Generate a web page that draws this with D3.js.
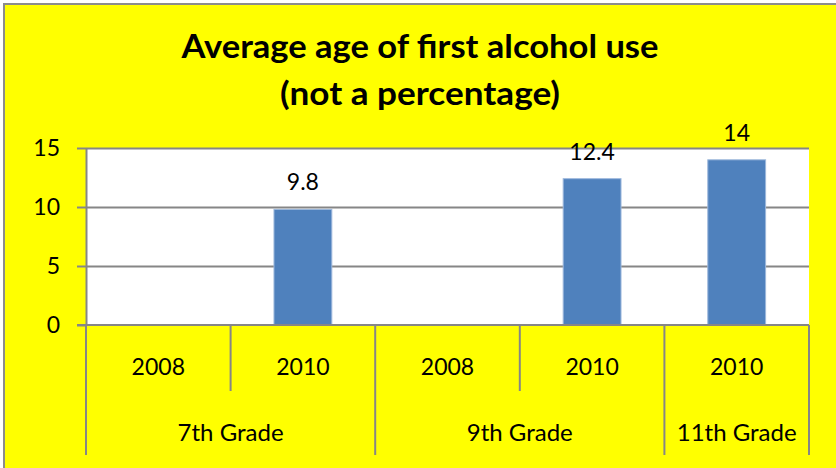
<!DOCTYPE html>
<html>
<head>
<meta charset="utf-8">
<script src="https://cdn.jsdelivr.net/npm/d3@7"></script>
<style>
  html, body { margin: 0; padding: 0; background: #ffffff; }
  svg { display: block; }
  text { font-family: Lato, "Open Sans", sans-serif; fill: #000; }
</style>
</head>
<body>
<div id="chart"></div>
<script>
// ---- data ----
const title = ["Average age of first alcohol use", "(not a percentage)"];
const slotKeys = ["7-2008", "7-2010", "9-2008", "9-2010", "11-2010"];
const years = ["2008", "2010", "2008", "2010", "2010"];
const grades = ["7th Grade", "9th Grade", "11th Grade"];
const gradeSpans = [2, 2, 1];
const values = [null, 9.8, null, 12.4, 14];
const yTicks = [0, 5, 10, 15];

// ---- layout ----
const W = 836, H = 468;
const plot = { left: 86, right: 809, top: 148, bottom: 325 };
const yearRowBottom = 391, gradeRowBottom = 455;
const gridColor = "#868686";
const barColor = "#4F81BD";

const svg = d3.select("#chart").append("svg").attr("width", W).attr("height", H);

// chart area background with border (right/bottom edges fall outside view)
svg.append("rect")
  .attr("x", 4).attr("y", 4).attr("width", W + 20).attr("height", H + 20)
  .attr("fill", "#FFFF00").attr("stroke", "#8c8c8c").attr("stroke-width", 2);

// title
svg.append("text").attr("x", 420).attr("y", 58)
  .attr("text-anchor", "middle").attr("font-weight", "bold").attr("font-size", 32)
  .attr("textLength", 477).attr("lengthAdjust", "spacingAndGlyphs")
  .text(title[0]);
svg.append("text").attr("x", 420).attr("y", 105)
  .attr("text-anchor", "middle").attr("font-weight", "bold").attr("font-size", 32)
  .attr("textLength", 280).attr("lengthAdjust", "spacingAndGlyphs")
  .text(title[1]);

// scales
const x = d3.scaleBand().domain(slotKeys).range([plot.left, plot.right]).paddingInner(0).paddingOuter(0);
const y = d3.scaleLinear().domain([0, 15]).range([plot.bottom, plot.top]);

// plot area
svg.append("rect")
  .attr("x", plot.left).attr("y", plot.top)
  .attr("width", plot.right - plot.left).attr("height", plot.bottom - plot.top)
  .attr("fill", "#ffffff");

// gridlines
const grid = svg.append("g").attr("transform", `translate(${plot.left},0)`)
  .call(d3.axisLeft(y).tickValues(yTicks.filter(d => d !== 0)).tickSize(-(plot.right - plot.left)).tickFormat(""));
grid.select(".domain").remove();
grid.selectAll("line").attr("stroke", gridColor).attr("stroke-width", 2);

// y axis
const yAxis = svg.append("g").attr("transform", `translate(${plot.left},0)`)
  .call(d3.axisLeft(y).tickValues(yTicks).tickSize(9).tickPadding(17).tickSizeOuter(0));
yAxis.select(".domain").attr("stroke", gridColor).attr("stroke-width", 2);
yAxis.selectAll(".tick line").attr("stroke", gridColor).attr("stroke-width", 2);
yAxis.selectAll(".tick text").attr("font-size", 23).attr("font-family", "Lato, sans-serif").attr("fill", "#000");

// bars
const bw = x.bandwidth() * 0.4;
const barData = slotKeys.map((k, i) => ({ k, v: values[i] })).filter(d => d.v != null);
svg.append("g").selectAll("rect").data(barData).join("rect")
  .attr("x", d => x(d.k) + (x.bandwidth() - bw) / 2)
  .attr("y", d => y(d.v))
  .attr("width", bw)
  .attr("height", d => y(0) - y(d.v))
  .attr("fill", barColor)
  .attr("stroke", "#9db8dc").attr("stroke-width", 1);

// data labels
svg.append("g").selectAll("text").data(barData).join("text")
  .attr("x", d => x(d.k) + x.bandwidth() / 2)
  .attr("y", d => y(d.v) - 19)
  .attr("text-anchor", "middle").attr("font-size", 23)
  .text(d => d.v);

// category axis line at 0
svg.append("line")
  .attr("x1", plot.left - 9).attr("x2", plot.right)
  .attr("y1", y(0)).attr("y2", y(0))
  .attr("stroke", gridColor).attr("stroke-width", 2);

// group boundaries
const groupStarts = [];
let acc = 0;
gradeSpans.forEach(s => { groupStarts.push(acc); acc += s; });
const groupEdgeIdx = new Set([...groupStarts, slotKeys.length]);
const cat = svg.append("g");
for (let i = 0; i <= slotKeys.length; i++) {
  const xx = i < slotKeys.length ? x(slotKeys[i]) : plot.right;
  cat.append("line")
    .attr("x1", xx).attr("x2", xx)
    .attr("y1", y(0)).attr("y2", groupEdgeIdx.has(i) ? gradeRowBottom : yearRowBottom)
    .attr("stroke", gridColor).attr("stroke-width", 2);
}

// year labels
cat.selectAll("text.year").data(slotKeys).join("text").attr("class", "year")
  .attr("x", k => x(k) + x.bandwidth() / 2)
  .attr("y", 375)
  .attr("text-anchor", "middle").attr("font-size", 23)
  .text((k, i) => years[i]);

// grade labels
cat.selectAll("text.grade").data(grades).join("text").attr("class", "grade")
  .attr("x", (g, i) => {
    const a = x(slotKeys[groupStarts[i]]);
    const b = a + x.bandwidth() * gradeSpans[i];
    return (a + b) / 2;
  })
  .attr("y", 441)
  .attr("text-anchor", "middle").attr("font-size", 24)
  .text(g => g);
</script>
</body>
</html>
